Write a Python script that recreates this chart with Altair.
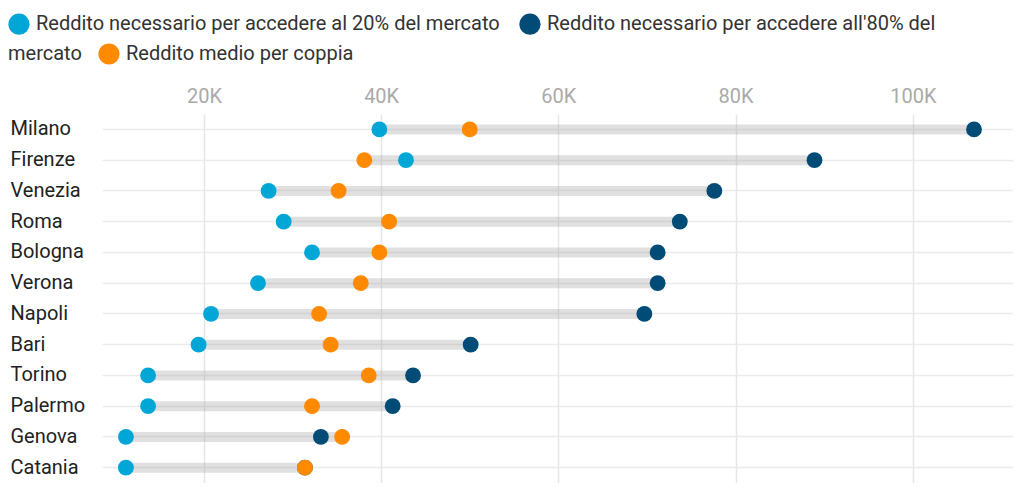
import altair as alt
import pandas as pd

cities = ["Milano", "Firenze", "Venezia", "Roma", "Bologna", "Verona",
          "Napoli", "Bari", "Torino", "Palermo", "Genova", "Catania"]
p20 = [39800, 42800, 27300, 29000, 32200, 26100, 20800, 19400, 13700, 13700, 11200, 11200]
p80 = [106900, 88900, 77600, 73700, 71200, 71200, 69700, 50100, 43600, 41300, 33200, 31400]
media = [50000, 38100, 35200, 40900, 39800, 37700, 33000, 34300, 38600, 32200, 35600, 31400]

s20 = "Reddito necessario per accedere al 20% del mercato"
s80 = "Reddito necessario per accedere all'80% del mercato"
smed = "Reddito medio per coppia"
x_ticks = [20000, 40000, 60000, 80000, 100000]

wide = pd.DataFrame({"city": cities, s20: p20, s80: p80, smed: media})
wide["lo"] = wide[[s20, s80, smed]].min(axis=1)
wide["hi"] = wide[[s20, s80, smed]].max(axis=1)
long = wide.melt(id_vars=["city"], value_vars=[s20, s80, smed], var_name="serie", value_name="val")
need = long[long["serie"] != smed]
avg = long[long["serie"] == smed]

FONT = "Roboto"
FS = 20

xscale = alt.Scale(domain=[8500, 111300], nice=False, zero=False)
yenc = alt.Y("city:N", sort=cities, title=None,
             axis=alt.Axis(labelAlign="left", labelPadding=92, labelFontSize=FS, labelColor="#222222",
                           labelFont=FONT, domain=False, ticks=False, grid=True,
                           gridColor="#ebebeb", gridWidth=1.5))
xenc = alt.X("val:Q", scale=xscale, title=None,
             axis=alt.Axis(orient="top", values=x_ticks, labelExpr="datum.value/1000 + 'K'",
                           labelFontSize=FS, labelColor="#aaaaaa", labelFont=FONT, labelPadding=8,
                           domain=False, ticks=False, grid=True, gridColor="#e6e6e6", gridWidth=1.5))

bars = alt.Chart(wide).mark_rule(color="#999999", opacity=0.3, strokeWidth=10, strokeCap="butt").encode(
    y=alt.Y("city:N", sort=cities),
    x=alt.X("lo:Q", scale=xscale),
    x2="hi:Q",
)

leg_common = dict(direction="horizontal", symbolType="circle", symbolSize=450,
                  symbolStrokeWidth=0, symbolOpacity=1, labelFontSize=FS,
                  labelFont=FONT, labelColor="#333333", labelLimit=700, labelOffset=6)

pts_need = alt.Chart(need).mark_circle(size=250, opacity=1).encode(
    y=yenc, x=xenc,
    color=alt.Color("serie:N", scale=alt.Scale(domain=[s20, s80], range=["#00a6d6", "#004c76"]),
                    title=None,
                    legend=alt.Legend(orient="none", legendX=-94, legendY=-101, columnPadding=19,
                                      labelExpr="indexof(datum.label, '80%') >= 0 ? \"Reddito necessario per accedere all'80% del\" : datum.label",
                                      **leg_common)),
)

pts_avg = alt.Chart(avg).mark_circle(size=215, opacity=1, stroke="#ff8a00", strokeWidth=1.2).encode(
    y=yenc, x=xenc,
    fill=alt.Fill("serie:N", scale=alt.Scale(domain=[smed], range=["#ff8a00"]),
                  legend=alt.Legend(orient="none", legendX=-94, legendY=-71, title="mercato",
                                    titleOrient="left", titleFontSize=FS, titleFont=FONT,
                                    titleFontWeight="normal", titleColor="#333333", titlePadding=16,
                                    titleBaseline="middle",
                                    **leg_common)),
)

chart = (bars + pts_need + pts_avg).resolve_scale(color="independent").properties(
    width=911, height=369,
    padding={"left": 0, "top": 5, "right": 0, "bottom": 0},
).configure_view(stroke=None)

chart.save("out.html", embed_options={"renderer": "svg", "actions": False})
